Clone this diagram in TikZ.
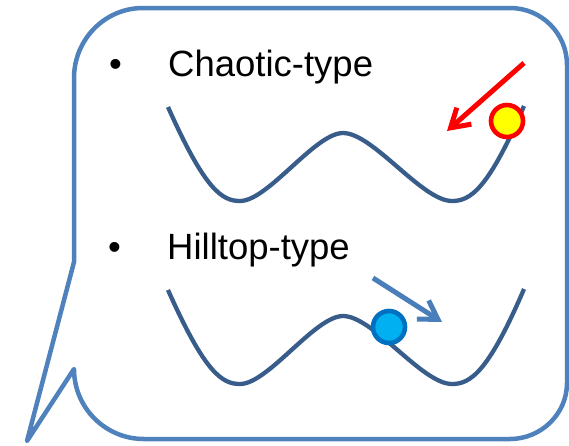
\documentclass[tikz,border=0pt]{standalone}
\usepackage{fontspec}
\setmainfont{Liberation Sans}
\usetikzlibrary{arrows.meta}
\definecolor{outlineblue}{HTML}{4F81BD}
\definecolor{curveblue}{HTML}{385D8A}
\definecolor{arrowblue}{HTML}{4A7EBB}
\definecolor{ballblue}{HTML}{00B0F0}
\definecolor{ballrim}{HTML}{0070C0}
\definecolor{ballyellow}{HTML}{FFFF00}
\definecolor{arrowred}{HTML}{FF0000}
\tikzset{
  bubble/.style={draw=outlineblue, line width=4.5pt, line join=round},
  well/.style={draw=curveblue, line width=4.3pt},
  label/.style={anchor=base west, inner sep=0pt, font=\fontsize{36.5}{36.5}\selectfont},
  ball/.style={circle, minimum size=32pt, inner sep=0pt, line width=4.6pt},
  push/.style={line width=5pt, -{Straight Barb[length=18pt,width=22pt,sharp]}},
}
\begin{document}
\begin{tikzpicture}[x=1pt,y=-1pt]
\useasboundingbox (0,0) rectangle (569,445);
% callout outline
\draw[bubble] (27,441) -- (74,262) -- (74,78)
  .. controls (74,39.4) and (104.9,8) .. (143,8) -- (510,8)
  .. controls (541.5,8) and (567,33.5) .. (567,65) -- (567,383)
  .. controls (567,414) and (541,439) .. (510,439) -- (144,439)
  .. controls (105.3,439) and (74,407.7) .. (74,369) -- cycle;
% texts
\node[label] (b1) at (109,76) {•};
\node[label] (t1) at (168,76) {Chaotic-type};
\node[label] (b2) at (108,259) {•};
\node[label] (t2) at (167,259) {Hilltop-type};
% upper double well
\draw[well] (168,107) .. controls (205,190) and (222,201) .. (240,201)
  .. controls (268,201) and (315,133) .. (343,133)
  .. controls (373,133) and (422,201) .. (452,201)
  .. controls (470,201) and (488,190) .. (524,106);
% lower double well
\begin{scope}[yshift=-183pt]
\draw[well] (168,107) .. controls (205,190) and (222,201) .. (240,201)
  .. controls (268,201) and (315,133) .. (343,133)
  .. controls (373,133) and (422,201) .. (452,201)
  .. controls (470,201) and (488,190) .. (524,106);
\end{scope}
% balls
\node[ball, draw=arrowred, fill=ballyellow] (yball) at (507,121) {};
\node[ball, draw=ballrim, fill=ballblue] (bball) at (389,327) {};
% arrows
\coordinate (r0) at (524,63);
\coordinate (r1) at (447,131);
\coordinate (s0) at (373,278);
\coordinate (s1) at (442,322);
\draw[push, draw=arrowred] (r0) -- (r1);
\draw[push, draw=arrowblue] (s0) -- (s1);
\end{tikzpicture}
\end{document}
